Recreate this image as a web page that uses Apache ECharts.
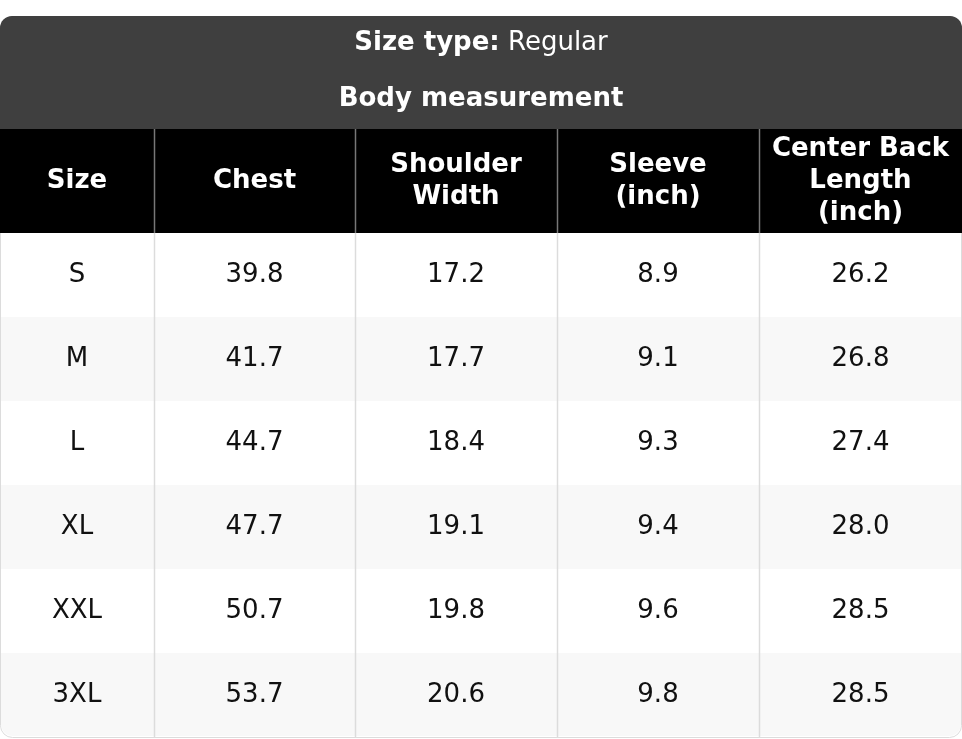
<!DOCTYPE html><html><head><meta charset="utf-8"><script src="https://cdn.jsdelivr.net/npm/echarts@6/dist/echarts.min.js"></script>
<style>html,body{margin:0;padding:0;background:#fff}#c{width:962px;height:739px}</style></head><body><div id="c"></div><script>
const titleLabel='Size type:', titleValue=' Regular', subtitle='Body measurement';
const headers=['Size','Chest','Shoulder\nWidth','Sleeve\n(inch)','Center Back\nLength\n(inch)'];
const sizes=['S','M','L','XL','XXL','3XL'];
const chest=['39.8','41.7','44.7','47.7','50.7','53.7'];
const shoulder=['17.2','17.7','18.4','19.1','19.8','20.6'];
const sleeve=['8.9','9.1','9.3','9.4','9.6','9.8'];
const backLen=['26.2','26.8','27.4','28.0','28.5','28.5'];
const colEdges=[0,154,355,557,759,962];
const rowEdges=[0,104,188,272,356,440,524,608];
const cols=[sizes,chest,shoulder,sleeve,backLen];
const data=[];
headers.forEach((h,c)=>data.push([c,0,h]));
sizes.forEach((s,r)=>cols.forEach((col,c)=>data.push([c,r+1,col[r]])));
const F='DejaVu Sans';
const chart=echarts.init(document.getElementById('c'));
chart.setOption({
 animation:false,
 grid:{left:0,right:0,top:129,bottom:2},
 xAxis:{type:'value',min:0,max:962,show:false},
 yAxis:{type:'value',min:0,max:608,inverse:true,show:false},
 graphic:[
  {type:'rect',shape:{x:0.5,y:16.5,width:961,height:721,r:12},style:{fill:'#fff',stroke:'#dcdcdc',lineWidth:1},z:-10},
  {type:'rect',shape:{x:0,y:16,width:962,height:113,r:[12,12,0,0]},style:{fill:'#3f3f3f'},z:-5},
  {type:'text',x:481,y:43,style:{text:'{b|'+titleLabel+'}{n|'+titleValue+'}',align:'center',verticalAlign:'middle',rich:{b:{fontFamily:F,fontSize:26,fontWeight:'bold',fill:'#fff'},n:{fontFamily:F,fontSize:26,fill:'#fff'}}}},
  {type:'text',x:481,y:99,style:{text:subtitle,align:'center',verticalAlign:'middle',font:'bold 26px "DejaVu Sans"',fill:'#fff'}}
 ],
 series:[{type:'custom',data:data,clip:false,
  renderItem:(p,api)=>{
   const c=api.value(0), r=api.value(1);
   const d=data[p.dataIndex];
   const a=api.coord([colEdges[c],rowEdges[r]]), b=api.coord([colEdges[c+1],rowEdges[r+1]]);
   const hdr=r===0;
   const last=r===rowEdges.length-2;
   const fill=hdr?'#000':(r%2===0?'#f8f8f8':'#fff');
   const ch=[];
   let rr=0;
   if(last&&c===0)rr=[0,0,0,12];
   if(last&&c===cols.length-1)rr=[0,0,12,0];
   ch.push({type:'rect',shape:{x:a[0]+(c===0&&!hdr?1:0),y:a[1],width:b[0]-a[0]-(c===0&&!hdr?1:0)-(c===4&&!hdr?1:0),height:b[1]-a[1]-(last?1:0),r:rr},style:{fill:fill}});
   if(c>0)ch.push({type:'line',shape:{x1:a[0]+0.5,y1:a[1],x2:a[0]+0.5,y2:b[1]},style:{stroke:hdr?'#777':'#dcdcdc',lineWidth:1.5}});
   ch.push({type:'text',style:{text:d[2],x:(a[0]+b[0])/2,y:(a[1]+b[1])/2,align:'center',verticalAlign:'middle',fontFamily:F,fontSize:hdr?26:26,fontWeight:hdr?'bold':'normal',lineHeight:hdr?32:30,fill:hdr?'#fff':'#111'}});
   return {type:'group',children:ch};
  }}]
});
</script></body></html>
